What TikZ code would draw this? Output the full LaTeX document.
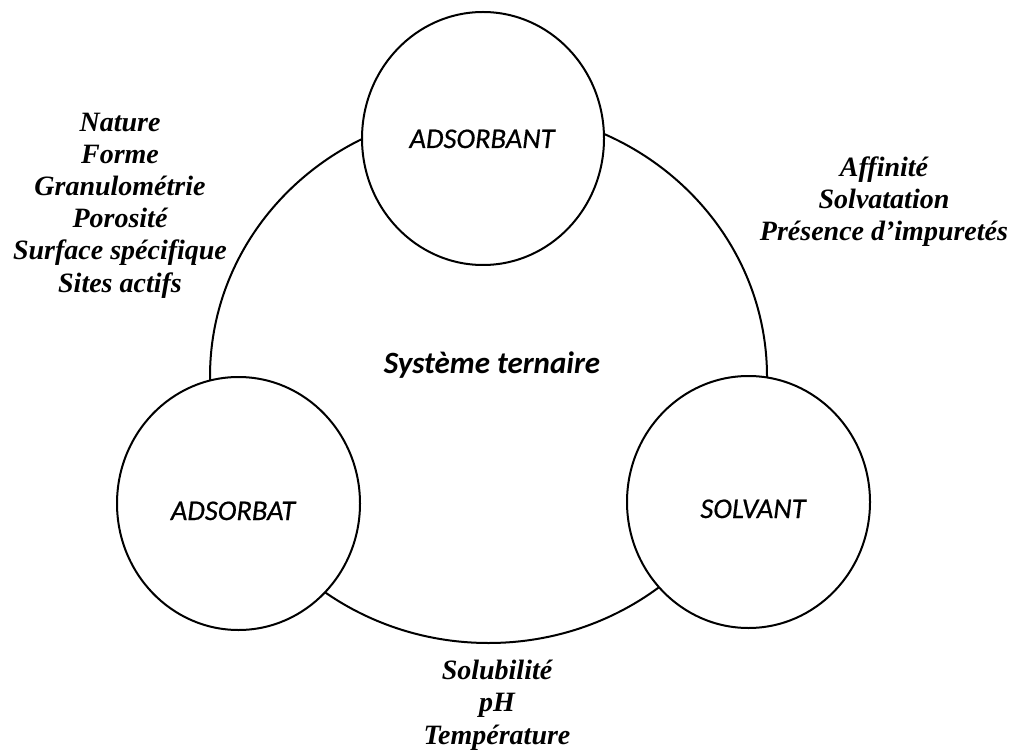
\documentclass[tikz,border=0pt]{standalone}
\usepackage{fontspec}
\newfontfamily\lblfont[FakeBold=0.6]{Carlito}
\newfontfamily\titlefont{Carlito}
\newfontfamily\listfont{Liberation Serif}
\usetikzlibrary{shapes.geometric}
\begin{document}
\begin{tikzpicture}[x=1pt,y=-1pt,
  ring/.style={ellipse, draw, line width=2pt, fill=white, inner sep=0pt},
  lbl/.style={font=\lblfont\itshape\fontsize{28.5}{34}\selectfont, anchor=base, inner sep=0pt},
  title/.style={font=\titlefont\bfseries\itshape\fontsize{31}{36}\selectfont, anchor=base, inner sep=0pt},
  factors/.style={font=\listfont\bfseries\itshape\fontsize{28}{32.2}\selectfont, align=center, anchor=base, inner sep=0pt}]
\useasboundingbox (0,0) rectangle (1014,751);
\fill[white] (0,0) rectangle (1014,751);
\node[ring, minimum width=557pt, minimum height=533pt] (sys) at (488.5,376.5) {};
\node[ring, minimum width=242pt, minimum height=253pt] (adsorbant) at (483,138.5) {};
\node[ring, minimum width=243pt, minimum height=253pt] (adsorbat) at (238.5,503.5) {};
\node[ring, minimum width=243pt, minimum height=252pt] (solvant) at (748.5,502) {};
\node[lbl] (adsorbant-t) at (482,148) {ADSORBANT};
\node[lbl] (adsorbat-t) at (233,520) {ADSORBAT};
\node[lbl] (solvant-t) at (753,518) {SOLVANT};
\node[title] (sys-t) at (492,373) {Système ternaire};
\node[factors] (left-f) at (120,292) {Nature\\Forme\\Granulométrie\\Porosité\\Surface spécifique\\Sites actifs};
\node[factors] (right-f) at (884,241) {Affinité\\Solvatation\\Présence d’impuretés};
\node[factors] (bottom-f) at (497,744) {Solubilité\\pH\\Température};
\end{tikzpicture}
\end{document}
